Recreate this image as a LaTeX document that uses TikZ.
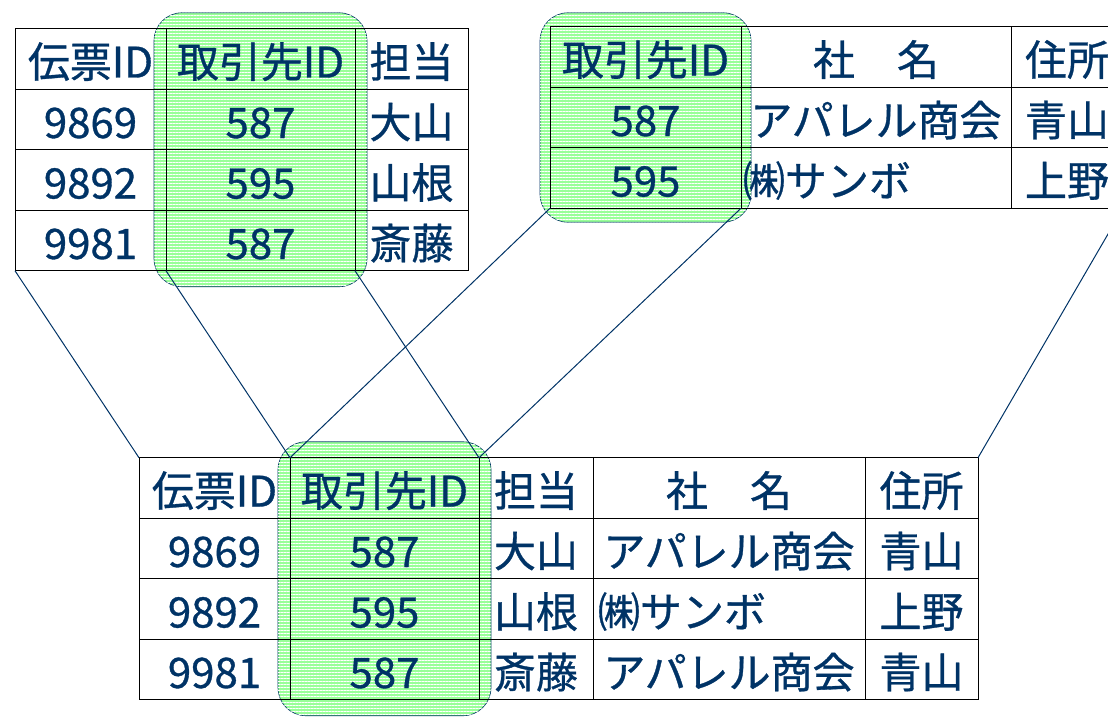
\documentclass[tikz,border=0pt]{standalone}
\usepackage{fontspec}
\setmainfont{Noto Sans CJK JP}[FakeBold=0.8]
\usetikzlibrary{positioning, fit, backgrounds, patterns.meta}
\definecolor{ink}{RGB}{0,51,102}
\definecolor{keygreen}{RGB}{153,255,153}

\begin{document}
\begin{tikzpicture}[x=1pt, y=-1pt,
    cell/.style = {draw, line width=0.8pt, outer sep=0pt, inner sep=0pt,
        minimum height=60.5pt, text=ink, text height=39pt, text depth=2pt,
        font=\fontsize{42}{42}\selectfont},
    colw/.style = {minimum width=#1pt},
    keybox/.style = {draw=ink, line width=0.6pt, rounded corners=28pt,
        fill=keygreen, inner xsep=12pt, inner ysep=16pt,
        postaction={pattern={Lines[angle=0, distance=3pt, line width=0.9pt]},
            pattern color=white}},
    link/.style = {draw=ink, line width=1pt}]
    \useasboundingbox (0,0) rectangle (1108,717);
    \clip (0,0) rectangle (1108,717);

    % slip table
    \node (s0-a) [cell, colw=151] at (90.5,59) {伝票ID};
    \node (s0-b) [cell, colw=189, right=0pt of s0-a] {取引先ID};
    \node (s0-c) [cell, colw=113, right=0pt of s0-b] {担当};
    \foreach \id/\key/\who [count=\r] in {9869/587/大山, 9892/595/山根, 9981/587/斎藤}
    {
        \pgfmathtruncatemacro\p{\r-1}
        \node (s\r-a) [cell, colw=151, below=0pt of s\p-a] {\id};
        \node (s\r-b) [cell, colw=189, below=0pt of s\p-b] {\key};
        \node (s\r-c) [cell, colw=113, below=0pt of s\p-c] {\who};
    }

    % customer table
    \node (k0-a) [cell, colw=191] at (645.5,57) {取引先ID};
    \node (k0-b) [cell, colw=270, right=0pt of k0-a] {社　名};
    \node (k0-c) [cell, colw=112, right=0pt of k0-b] {住所};
    \node (k1-a) [cell, colw=191, below=0pt of k0-a] {587};
    \node (k1-b) [cell, colw=270, below=0pt of k0-b] {アパレル商会};
    \node (k1-c) [cell, colw=112, below=0pt of k0-c] {青山};
    \node (k2-a) [cell, colw=191, below=0pt of k1-a] {595};
    \node (k2-b) [cell, colw=270, below=0pt of k1-b]
        {\makebox[266pt][l]{㈱サンボ}};
    \node (k2-c) [cell, colw=112, below=0pt of k1-c] {上野};

    % joined table
    \node (j0-a) [cell, colw=151] at (214.5,488) {伝票ID};
    \node (j0-b) [cell, colw=189, right=0pt of j0-a] {取引先ID};
    \node (j0-c) [cell, colw=114, right=0pt of j0-b] {担当};
    \node (j0-d) [cell, colw=272, right=0pt of j0-c] {社　名};
    \node (j0-e) [cell, colw=113, right=0pt of j0-d] {住所};
    \foreach \id/\key/\who/\name/\addr [count=\r] in
        {9869/587/大山/アパレル商会/青山,
         9892/595/山根/\makebox[262pt][l]{㈱サンボ}/上野,
         9981/587/斎藤/アパレル商会/青山}
    {
        \pgfmathtruncatemacro\p{\r-1}
        \node (j\r-a) [cell, colw=151, below=0pt of j\p-a] {\id};
        \node (j\r-b) [cell, colw=189, below=0pt of j\p-b] {\key};
        \node (j\r-c) [cell, colw=114, below=0pt of j\p-c] {\who};
        \node (j\r-d) [cell, colw=272, below=0pt of j\p-d] {\name};
        \node (j\r-e) [cell, colw=113, below=0pt of j\p-e] {\addr};
    }

    % key columns
    \begin{scope}[on background layer]
        \node (g1) [keybox, fit=(s0-b)(s3-b)] {};
        \node (g2) [keybox, inner xsep=10pt, inner ysep=14pt,
            fit=(k0-a)(k2-a)] {};
        \node (g3) [keybox, fit=(j0-b)(j3-b)] {};
    \end{scope}

    \path [link]
        (s3-a.south west) edge (j0-a.north west)
        (s3-b.south west) edge (j0-b.north west)
        (s3-b.south east) edge (j0-b.north east)
        (k2-a.south west) edge (j0-b.north west)
        (k2-a.south east) edge (j0-b.north east)
        (k2-c.south east) edge (j0-e.north east);
\end{tikzpicture}
\end{document}
